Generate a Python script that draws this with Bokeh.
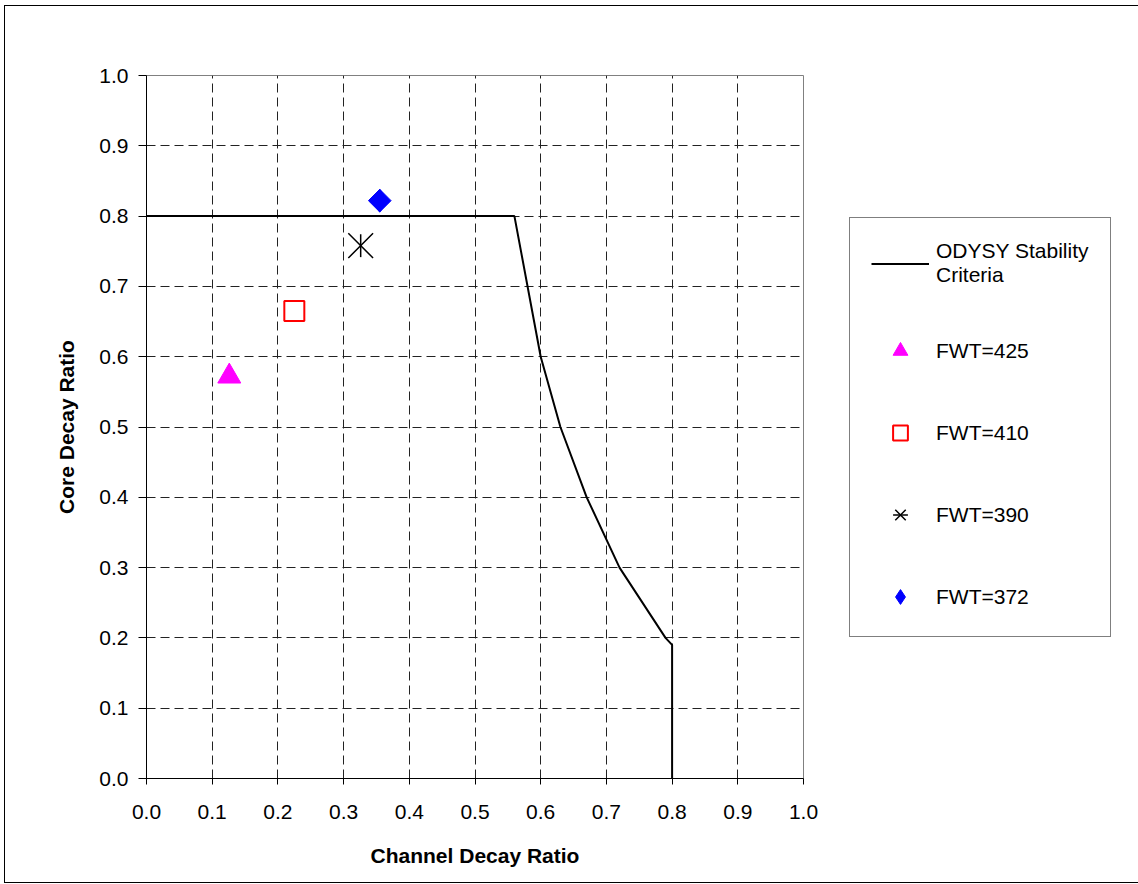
import math
from bokeh.plotting import figure
from bokeh.models import Legend, LegendItem, FixedTicker, PrintfTickFormatter, Range1d
from bokeh.embed import file_html
from bokeh.resources import INLINE

# ---- data ----
x_ticks = [0.0, 0.1, 0.2, 0.3, 0.4, 0.5, 0.6, 0.7, 0.8, 0.9, 1.0]
y_ticks = [0.0, 0.1, 0.2, 0.3, 0.4, 0.5, 0.6, 0.7, 0.8, 0.9, 1.0]

criteria_label = "ODYSY Stability\nCriteria"
criteria_x = [0.0, 0.56, 0.60, 0.63, 0.67, 0.72, 0.79, 0.80, 0.80]
criteria_y = [0.80, 0.80, 0.60, 0.50, 0.40, 0.30, 0.20, 0.19, 0.0]

fwt_labels = ["FWT=425", "FWT=410", "FWT=390", "FWT=372"]
fwt_x = [0.126, 0.225, 0.326, 0.355]
fwt_y = [0.572, 0.665, 0.758, 0.822]

x_title = "Channel Decay Ratio"
y_title = "Core Decay Ratio"

FONT = "Liberation Sans"

p = figure(frame_width=657, frame_height=703,
           x_range=Range1d(0, 1), y_range=Range1d(0, 1),
           output_backend="svg", toolbar_location=None,
           min_border_left=141, min_border_top=69,
           min_border_right=334, min_border_bottom=104,
           background_fill_color="white", border_fill_color="white")
p.styles = {"border": "1px solid black"}
p.margin = (5, 0, 0, 4)

p.outline_line_color = "#808080"
p.outline_line_width = 1

for ax, ticks in ((p.xaxis[0], x_ticks), (p.yaxis[0], y_ticks)):
    ax.ticker = FixedTicker(ticks=ticks)
    ax.formatter = PrintfTickFormatter(format="%.1f")
    ax.minor_tick_line_color = None
    ax.major_tick_in = 0
    ax.major_tick_out = 8
    ax.axis_line_color = "black"
    ax.major_tick_line_color = "black"
    ax.major_label_text_font = FONT
    ax.major_label_text_font_size = "21px"
    ax.major_label_text_color = "black"
    ax.axis_label_text_font = FONT
    ax.axis_label_text_font_size = "21px"
    ax.axis_label_text_font_style = "bold"
    ax.axis_label_text_color = "black"

p.xaxis.axis_label = x_title
p.yaxis.axis_label = y_title
p.xaxis.major_tick_out = 6
p.xaxis.major_label_standoff = 20
p.xaxis.axis_label_standoff = 22
p.yaxis.major_label_standoff = 10
p.yaxis.axis_label_standoff = 18

for g in (p.xgrid[0], p.ygrid[0]):
    g.grid_line_color = "#222222"
    g.grid_line_dash = "9 5"
    g.grid_line_width = 1

r_line = p.line(criteria_x, criteria_y, line_color="black", line_width=2)

r0 = p.scatter([fwt_x[0]], [fwt_y[0]], marker="triangle", size=23,
               fill_color="#FF00FF", line_color="#FF00FF")
r1 = p.scatter([fwt_x[1]], [fwt_y[1]], marker="square", size=20,
               fill_color=None, line_color="#FF0000", line_width=2)
r2a = p.scatter([fwt_x[2]], [fwt_y[2]], marker="x", size=35,
                line_color="black", line_width=1.5)
r2b = p.scatter([fwt_x[2]], [fwt_y[2]], marker="dash", size=23, angle=math.pi / 2,
                line_color="black", line_width=1.5)
# diamond (narrow) underneath, used for the legend glyph
r3_leg = p.scatter([fwt_x[3]], [fwt_y[3]], marker="diamond", size=23,
                   fill_color="#0000FF", line_color="#0000FF")
r3 = p.scatter([fwt_x[3]], [fwt_y[3]], marker="square", size=16, angle=math.pi / 4,
               fill_color="#0000FF", line_color="#0000FF")

legend = Legend(items=[
    LegendItem(label=criteria_label, renderers=[r_line]),
    LegendItem(label=fwt_labels[0], renderers=[r0]),
    LegendItem(label=fwt_labels[1], renderers=[r1]),
    LegendItem(label=fwt_labels[2], renderers=[r2a, r2b]),
    LegendItem(label=fwt_labels[3], renderers=[r3_leg]),
], location=(46, 141))
legend.border_line_color = "black"
legend.border_line_width = 1
legend.background_fill_color = "white"
legend.background_fill_alpha = 1
legend.padding = 21
legend.spacing = 45
legend.margin = 0
legend.glyph_width = 58
legend.glyph_height = 37
legend.label_height = 37
legend.label_standoff = 7
legend.label_text_font = FONT
legend.label_text_font_size = "21px"
legend.label_text_line_height = 0.9
legend.label_text_color = "black"
p.add_layout(legend, "right")

open("out.html", "w").write(file_html(p, INLINE))
